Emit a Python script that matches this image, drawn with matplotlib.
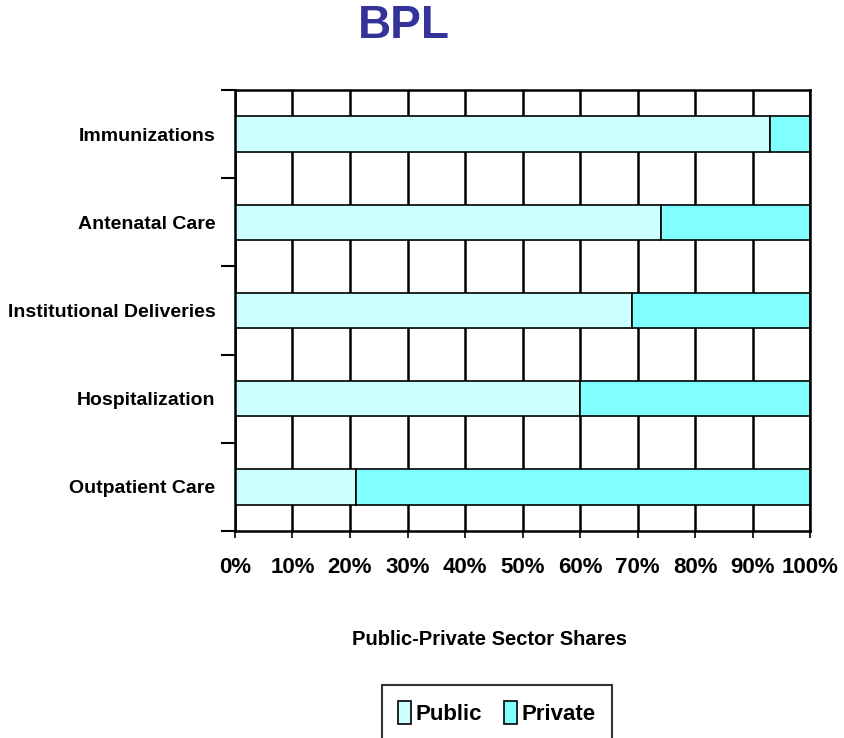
import numpy as np
import matplotlib.pyplot as plt
from matplotlib.ticker import FixedLocator, PercentFormatter

services = ['Immunizations', 'Antenatal Care', 'Institutional Deliveries',
            'Hospitalization', 'Outpatient Care']
public = [93, 74, 69, 60, 21]
private = [100 - p for p in public]

plt.rcParams['font.family'] = ['Liberation Sans', 'DejaVu Sans']

fig = plt.figure(figsize=(8.45, 7.38), dpi=100)
ax = fig.add_axes([0.278, 0.2805, 0.681, 0.5975])

y = np.arange(len(services))
ax.barh(y, public, height=0.4, color='#CCFFFF', edgecolor='black', linewidth=1.2, label='Public')
ax.barh(y, private, left=public, height=0.4, color='#80FFFF', edgecolor='black', linewidth=1.2, label='Private')

ax.set_xlim(0, 100)
ax.set_ylim(len(services) - 0.5, -0.5)
ax.set_xticks(np.arange(0, 101, 10))
ax.xaxis.set_major_formatter(PercentFormatter(decimals=0))
ax.set_yticks(y)
ax.set_yticklabels(services)
# boundary ticks between the categories
ax.yaxis.set_minor_locator(FixedLocator(np.arange(-0.5, len(services), 1)))
ax.tick_params(axis='y', which='major', length=0, pad=14, labelsize=14)
ax.tick_params(axis='y', which='minor', length=10, width=1.5, direction='out')
ax.tick_params(axis='x', length=5, width=1.2, pad=14, labelsize=16)
for lab in ax.get_xticklabels() + ax.get_yticklabels():
    lab.set_fontweight('bold')

ax.set_axisbelow(True)
ax.grid(axis='x', color='black', linewidth=1.8)
for s in ax.spines.values():
    s.set_linewidth(1.8)

ax.set_xlabel('Public-Private Sector Shares', fontsize=14.5, fontweight='bold')
ax.xaxis.set_label_coords(0.442, -0.225)

fig.text(0.478, 0.995, 'BPL', ha='center', va='top', color='#333399',
         fontsize=33, fontweight='bold')

leg = fig.legend(loc='lower center', bbox_to_anchor=(0.588, -0.018), ncol=2,
                 frameon=True, fancybox=False, edgecolor='black',
                 prop={'size': 16, 'weight': 'bold'},
                 handlelength=0.6, handleheight=1.2, handletextpad=0.2, columnspacing=1.0,
                 borderpad=0.7)
leg.get_frame().set_linewidth(1.5)

fig.savefig('out.png', dpi=100)
